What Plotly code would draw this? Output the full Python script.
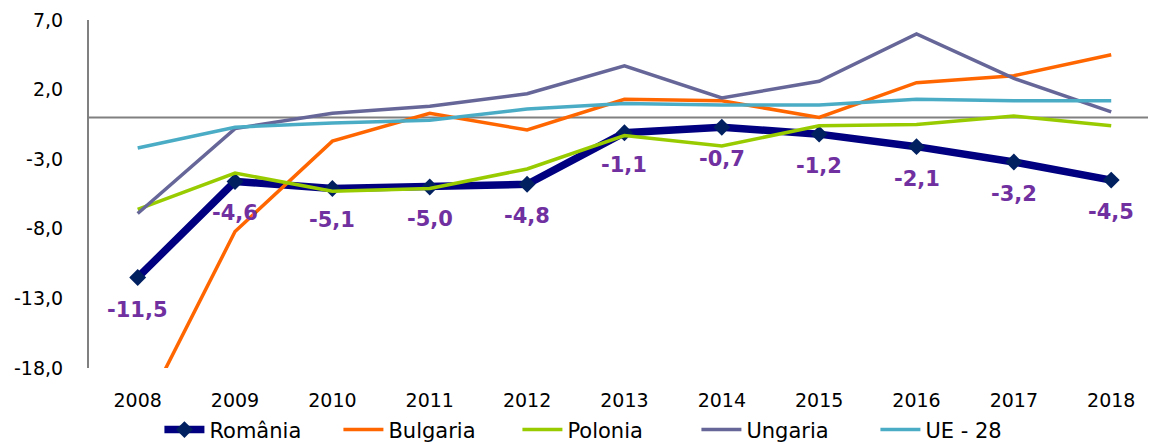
import plotly.graph_objects as go

years = [2008, 2009, 2010, 2011, 2012, 2013, 2014, 2015, 2016, 2017, 2018]
romania = [-11.5, -4.6, -5.1, -5.0, -4.8, -1.1, -0.7, -1.2, -2.1, -3.2, -4.5]
bulgaria = [-22.0, -8.2, -1.7, 0.3, -0.9, 1.3, 1.2, 0.0, 2.5, 3.0, 4.5]
polonia = [-6.6, -4.0, -5.3, -5.1, -3.7, -1.3, -2.05, -0.6, -0.5, 0.1, -0.6]
ungaria = [-6.9, -0.8, 0.3, 0.8, 1.7, 3.7, 1.4, 2.6, 6.0, 2.8, 0.4]
ue28 = [-2.2, -0.7, -0.4, -0.2, 0.6, 1.0, 0.9, 0.9, 1.3, 1.2, 1.2]
y_ticks = [7.0, 2.0, -3.0, -8.0, -13.0, -18.0]
label_fmt = lambda v: f"{v:.1f}".replace(".", ",")

FONT = "DejaVu Sans"

fig = go.Figure()
fig.add_trace(go.Scatter(x=years, y=romania, name="România", mode="lines+markers",
                         line=dict(color="#000080", width=7.5),
                         marker=dict(symbol="diamond", size=13, color="#002060")))
fig.add_trace(go.Scatter(x=years, y=bulgaria, name="Bulgaria", mode="lines",
                         line=dict(color="#FF6600", width=3.5)))
fig.add_trace(go.Scatter(x=years, y=polonia, name="Polonia", mode="lines",
                         line=dict(color="#99CC00", width=3.5)))
fig.add_trace(go.Scatter(x=years, y=ungaria, name="Ungaria", mode="lines",
                         line=dict(color="#666699", width=3.5)))
fig.add_trace(go.Scatter(x=years, y=ue28, name="UE - 28", mode="lines",
                         line=dict(color="#4BACC6", width=3.5)))

for x, v in zip(years, romania):
    fig.add_annotation(x=x, y=v, text=f"<b>{label_fmt(v)}</b>", showarrow=False,
                       yshift=-32, font=dict(family=FONT, size=21, color="#7030A0"))

fig.add_shape(type="line", xref="paper", x0=0, x1=1, yref="y", y0=0, y1=0,
              line=dict(color="#808080", width=2), layer="below")

fig.update_layout(
    width=1148, height=435,
    margin=dict(l=81, r=0, t=12, b=75, autoexpand=False),
    plot_bgcolor="white", paper_bgcolor="white",
    font=dict(family=FONT, size=19, color="#000000"),
    showlegend=True,
    legend=dict(orientation="h", xref="paper", x=0.066, xanchor="left",
                yref="container", y=0.03, yanchor="middle",
                font=dict(family=FONT, size=21), itemwidth=40,
                entrywidth=124, entrywidthmode="pixels", tracegroupgap=0),
    xaxis=dict(range=[2007.5, 2018.46], tickmode="array", tickvals=years,
               ticktext=[str(y) for y in years], showgrid=False, zeroline=False,
               showline=False, ticks="", ticklabelstandoff=19, tickfont=dict(size=19)),
    yaxis=dict(range=[-18, 7], tickmode="array", tickvals=y_ticks,
               ticktext=[label_fmt(v) for v in y_ticks], showgrid=False,
               zeroline=False, showline=True, linecolor="#808080", linewidth=2,
               ticks="", ticklabelstandoff=20, tickfont=dict(size=19)),
)

fig.write_html("out.html")
